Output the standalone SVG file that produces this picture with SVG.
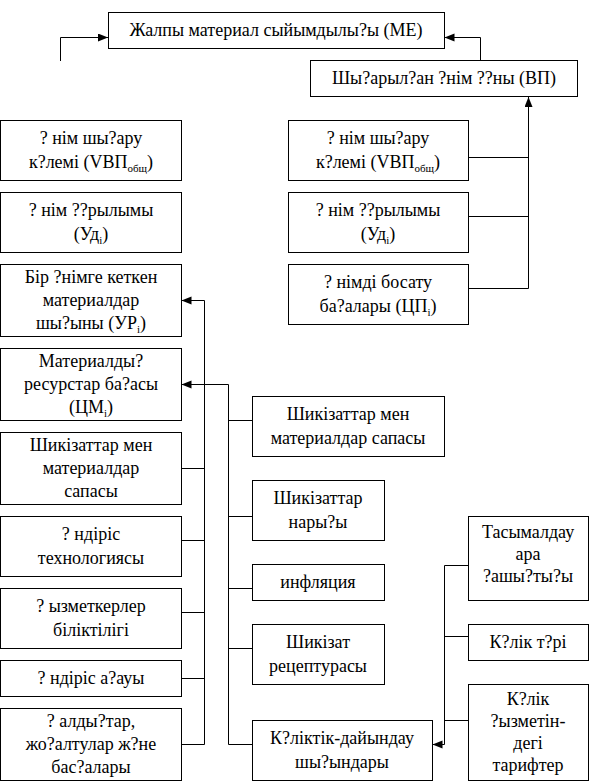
<svg xmlns="http://www.w3.org/2000/svg" width="591" height="783" viewBox="0 0 591 783">
<style>
.b{fill:#fff;stroke:#000;stroke-width:1}
text{font-size:18px;fill:#000;text-anchor:middle}
.s{font-size:11px}
.c path{fill:none;stroke:#000;stroke-width:1}
</style>
<defs>
<marker id="ah" markerUnits="userSpaceOnUse" markerWidth="11" markerHeight="9" refX="10" refY="4" orient="auto">
<path d="M0,0 L10,4 L0,8 z" fill="#000"/>
</marker>
</defs>
<rect width="591" height="783" fill="#fff"/>
<g class="c" id="connectors">
<path d="M60.5,61 V37.5 H108" marker-end="url(#ah)"/>
<path d="M480.5,60 V37.5 H444.5" marker-end="url(#ah)"/>
<path d="M528.5,288.5 V97" marker-end="url(#ah)"/>
<path d="M468,157.5 H528.5 M468,216.5 H528.5 M468,288.5 H528.5"/>
<path d="M204.5,744.5 V300.5 H181.5" marker-end="url(#ah)"/>
<path d="M181,468.5 H204.5 M181,540.5 H204.5 M181,612.5 H204.5 M181,678.5 H204.5 M181,744.5 H204.5"/>
<path d="M228.5,744.5 V384.5 H181.5" marker-end="url(#ah)"/>
<path d="M228.5,420.5 H252 M228.5,516.5 H252 M228.5,588.5 H252 M228.5,648.5 H252 M228.5,744.5 H252"/>
<path d="M468,565.5 H444.5 V744.5 H432.5" marker-end="url(#ah)"/>
<path d="M444.5,636.5 H468 M444.5,720.5 H468"/>
</g>
<g font-family="Liberation Serif, Tinos, Times New Roman, DejaVu Serif, serif">
<g id="me"><rect class="b" x="108.5" y="12.5" width="336" height="36"/><text x="276" y="36">Жалпы материал сыйымдылы?ы (МЕ)</text></g>
<g id="vp"><rect class="b" x="310.5" y="60.5" width="267" height="36"/><text x="444" y="84">Шы?арыл?ан ?нім ??ны (ВП)</text></g>
<g id="l1"><rect class="b" x="0.5" y="120.5" width="181" height="60"/><text x="91" y="144">? нім шы?ару</text><text x="91" y="168">к?лемі (VВП<tspan class="s" dy="4">общ</tspan><tspan dy="-4">)</tspan></text></g>
<g id="l2"><rect class="b" x="0.5" y="192.5" width="181" height="60"/><text x="91" y="216">? нім ??рылымы</text><text x="91" y="240">(Уд<tspan class="s" dy="4">i</tspan><tspan dy="-4">)</tspan></text></g>
<g id="l3"><rect class="b" x="0.5" y="264.5" width="181" height="72"/><text x="91" y="283">Бір ?німге кеткен</text><text x="91" y="306">материалдар</text><text x="91" y="329">шы?ыны (УР<tspan class="s" dy="4">i</tspan><tspan dy="-4">)</tspan></text></g>
<g id="l4"><rect class="b" x="0.5" y="348.5" width="181" height="72"/><text x="91" y="367">Материалды?</text><text x="91" y="390">ресурстар ба?асы</text><text x="91" y="413">(ЦМ<tspan class="s" dy="4">i</tspan><tspan dy="-4">)</tspan></text></g>
<g id="l5"><rect class="b" x="0.5" y="432.5" width="181" height="72"/><text x="91" y="451">Шикізаттар мен</text><text x="91" y="474">материалдар</text><text x="91" y="497">сапасы</text></g>
<g id="l6"><rect class="b" x="0.5" y="516.5" width="181" height="60"/><text x="91" y="540">? ндіріс</text><text x="91" y="564">технологиясы</text></g>
<g id="l7"><rect class="b" x="0.5" y="588.5" width="181" height="60"/><text x="91" y="612">? ызметкерлер</text><text x="91" y="636">біліктілігі</text></g>
<g id="l8"><rect class="b" x="0.5" y="660.5" width="181" height="36"/><text x="91" y="684">? ндіріс а?ауы</text></g>
<g id="l9"><rect class="b" x="0.5" y="708.5" width="181" height="72"/><text x="91" y="727">? алды?тар,</text><text x="91" y="750">жо?алтулар ж?не</text><text x="91" y="773">бас?алары</text></g>
<g id="r1"><rect class="b" x="288.5" y="120.5" width="180" height="60"/><text x="378" y="144">? нім шы?ару</text><text x="378" y="168">к?лемі (VВП<tspan class="s" dy="4">общ</tspan><tspan dy="-4">)</tspan></text></g>
<g id="r2"><rect class="b" x="288.5" y="192.5" width="180" height="60"/><text x="378" y="216">? нім ??рылымы</text><text x="378" y="240">(Уд<tspan class="s" dy="4">i</tspan><tspan dy="-4">)</tspan></text></g>
<g id="r3"><rect class="b" x="288.5" y="264.5" width="180" height="60"/><text x="378" y="288">? німді босату</text><text x="378" y="312">ба?алары (ЦП<tspan class="s" dy="4">i</tspan><tspan dy="-4">)</tspan></text></g>
<g id="m1"><rect class="b" x="252.5" y="396.5" width="192" height="60"/><text x="348" y="420">Шикізаттар мен</text><text x="348" y="444">материалдар сапасы</text></g>
<g id="m2"><rect class="b" x="252.5" y="480.5" width="132" height="60"/><text x="318" y="504">Шикізаттар</text><text x="318" y="528">нары?ы</text></g>
<g id="m3"><rect class="b" x="252.5" y="564.5" width="132" height="36"/><text x="318" y="588">инфляция</text></g>
<g id="m4"><rect class="b" x="252.5" y="624.5" width="132" height="60"/><text x="318" y="648">Шикізат</text><text x="318" y="672">рецептурасы</text></g>
<g id="m5"><rect class="b" x="252.5" y="720.5" width="180" height="60"/><text x="342" y="744">К?ліктік-дайындау</text><text x="342" y="768">шы?ындары</text></g>
<g id="t1"><rect class="b" x="468.5" y="516.5" width="120" height="84"/><text x="528" y="538">Тасымалдау</text><text x="528" y="560">ара</text><text x="528" y="582">?ашы?ты?ы</text></g>
<g id="t2"><rect class="b" x="468.5" y="624.5" width="120" height="36"/><text x="528" y="648">К?лік т?рі</text></g>
<g id="t3"><rect class="b" x="468.5" y="684.5" width="120" height="96"/><text x="528" y="705">К?лік</text><text x="528" y="727">?ызметін-</text><text x="528" y="749">дегі</text><text x="528" y="771">тарифтер</text></g>
</g>
</svg>
